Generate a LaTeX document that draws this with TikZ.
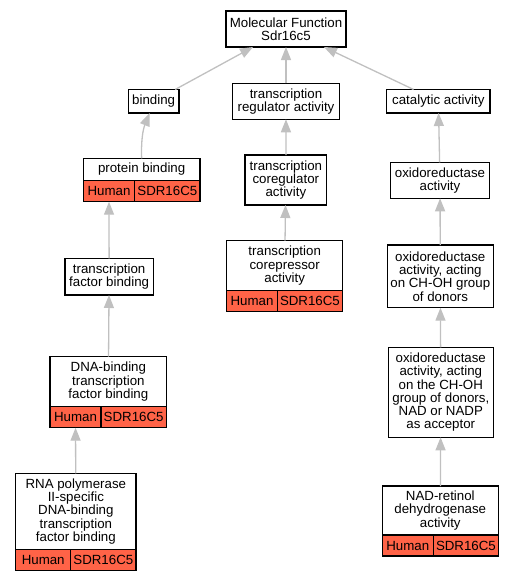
\documentclass[tikz,border=0pt]{standalone}
\usepackage{fontspec}
\setmainfont{Liberation Sans}
\usetikzlibrary{arrows.meta}
\definecolor{hitred}{HTML}{FF6347}
\definecolor{edgegray}{HTML}{C0C0C0}

\begin{document}
\begin{tikzpicture}[x=1pt, y=-1pt,
  term/.style={draw, line width=1.2pt, fill=white, align=center, inner sep=0pt, outer sep=0pt, anchor=north west, font=\fontsize{13.3}{13.3}\selectfont},
  hit/.style={draw, line width=1.2pt, fill=hitred, inner sep=0pt, outer sep=0pt, minimum height=21pt, anchor=north west, font=\fontsize{13.3}{13.3}\selectfont},
  isa/.style={edgegray, line width=1.3pt, -{Triangle[length=13pt, width=10pt]}}]
\useasboundingbox (0,0) rectangle (515,581);

% Draw the top term
\node[term, minimum width=120pt, minimum height=36pt] (mf) at (226,11) {Molecular Function\\Sdr16c5};

% Draw the second row
\node[term, minimum width=50.7pt, minimum height=23.5pt] (bind) at (128.3,89.5) {binding};
\node[term, minimum width=106.6pt, minimum height=36pt] (treg) at (232.7,83.3) {transcription\\regulator activity};
\node[term, minimum width=103.3pt, minimum height=23.5pt] (cat) at (386.7,89.5) {catalytic activity};

% Draw the binding branch
\node[term, minimum width=116.7pt, minimum height=22.4pt] (pb) at (83.3,158.3) {protein binding};
\node[term, minimum width=88.3pt, minimum height=36.7pt] (tfb) at (65,258.3) {transcription\\factor binding};
\node[term, minimum width=116.7pt, minimum height=50pt] (db) at (50,356.7) {DNA-binding\\transcription\\factor binding};
\node[term, minimum width=120.3pt, minimum height=76pt] (rp) at (15.7,473.3) {RNA polymerase\\II-specific\\DNA-binding\\transcription\\factor binding};

% Draw the regulator branch
\node[term, minimum width=81.7pt, minimum height=50pt] (creg) at (245,155) {transcription\\coregulator\\activity};
\node[term, minimum width=116pt, minimum height=50pt] (cr) at (226.7,240.7) {transcription\\corepressor\\activity};

% Draw the catalytic branch
\node[term, minimum width=98.6pt, minimum height=36pt] (ox) at (390.7,162.3) {oxidoreductase\\activity};
\node[term, minimum width=106pt, minimum height=62.7pt] (ch) at (387.3,245) {oxidoreductase\\activity, acting\\on CH-OH group\\of donors};
\node[term, minimum width=105pt, minimum height=90pt] (acc) at (388.3,347.3) {oxidoreductase\\activity, acting\\on the CH-OH\\group of donors,\\NAD or NADP\\as acceptor};
\node[term, minimum width=116pt, minimum height=49pt] (nr) at (382.3,486) {NAD-retinol\\dehydrogenase\\activity};

% Add annotation bars
\foreach \t/\w in {pb/51.4, cr/50.6, db/51, rp/55, nr/51}
{
    \node[hit, minimum width=\w pt] (\t H) at (\t.south west) {Human};
    \node[hit, minimum width=65.3pt] (\t S) at (\t H.north east) {SDR16C5};
}

% Draw is-a edges
\draw[isa] (bind) -- (mf);
\draw[isa] (treg) -- (mf);
\draw[isa] (cat) -- (mf);
\draw[isa] (pb.north) to[bend left=12] ([xshift=-4pt]bind.south);
\draw[isa] (tfb) -- (pbH);
\draw[isa] (db) -- (tfb);
\draw[isa] (rp) -- (dbH);
\draw[isa] (creg) -- (treg);
\draw[isa] (cr) -- (creg);
\draw[isa] (ox) -- (cat);
\draw[isa] (ch) -- (ox);
\draw[isa] (acc) -- (ch);
\draw[isa] (nr) -- (acc);

\end{tikzpicture}
\end{document}
